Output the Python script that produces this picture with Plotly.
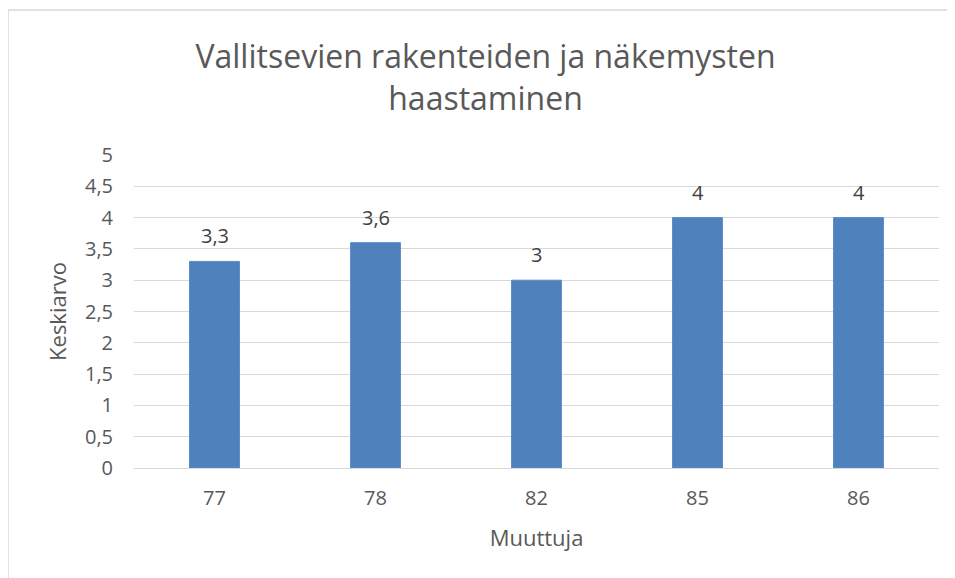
import plotly.graph_objects as go

categories = ["77", "78", "82", "85", "86"]
values = [3.3, 3.6, 3.0, 4.0, 4.0]
labels = ["3,3", "3,6", "3", "4", "4"]
title_text = "Vallitsevien rakenteiden ja näkemysten<br>haastaminen"

FONT = "Open Sans"
GREY = "#595959"

L, R, T, B = 126, 24, 147, 118
PW = 955 - L - R
PH = 578 - T - B

fig = go.Figure()
fig.add_trace(go.Bar(
    x=categories, y=values,
    marker=dict(color="#4F81BD", line=dict(color="#5B8CC8", width=1)),
    width=0.31,
))
for i, (val, lab) in enumerate(zip(values, labels)):
    fig.add_annotation(x=i, y=val, xref="x", yref="y", text=lab, showarrow=False,
                       yanchor="bottom", yshift=10,
                       font=dict(family=FONT, size=20, color="#404040"))
fig.update_layout(
    width=955, height=578,
    margin=dict(l=L, r=R, t=T, b=B),
    paper_bgcolor="white", plot_bgcolor="white",
    separators=",.",
    showlegend=False,
    title=dict(text=title_text, x=0.5, xanchor="center", xref="container",
               y=1 - 60 / 578, yanchor="top", yref="container",
               pad=dict(t=0),
               font=dict(family=FONT, size=32, color=GREY)),
    font=dict(family=FONT, size=20, color=GREY),
    xaxis=dict(type="category", range=[-0.5, len(categories) - 0.5], autorange=False,
               showgrid=False, zeroline=False, showline=False,
               ticks="", tickfont=dict(size=20, color=GREY), ticklabelstandoff=16,
               title=dict(text="Muuttuja", font=dict(size=22, color=GREY), standoff=20)),
    yaxis=dict(range=[0, 5], dtick=0.5, tick0=0, showgrid=True, gridcolor="#D9D9D9",
               gridwidth=1, zeroline=True, zerolinecolor="#D9D9D9", zerolinewidth=1,
               showline=False, ticks="", tickfont=dict(size=20, color=GREY),
               ticklabelstandoff=20,
               title=dict(text="Keskiarvo", font=dict(size=22, color=GREY), standoff=12)),
    shapes=[dict(type="rect", xref="paper", yref="paper",
                 x0=-L / PW, x1=1 + (R + 40) / PW, y0=-(B + 40) / PH, y1=1 + (T - 2) / PH,
                 line=dict(color="#D9D9D9", width=1.5), fillcolor="rgba(0,0,0,0)", layer="below")],
)
fig.write_html("out.html")
